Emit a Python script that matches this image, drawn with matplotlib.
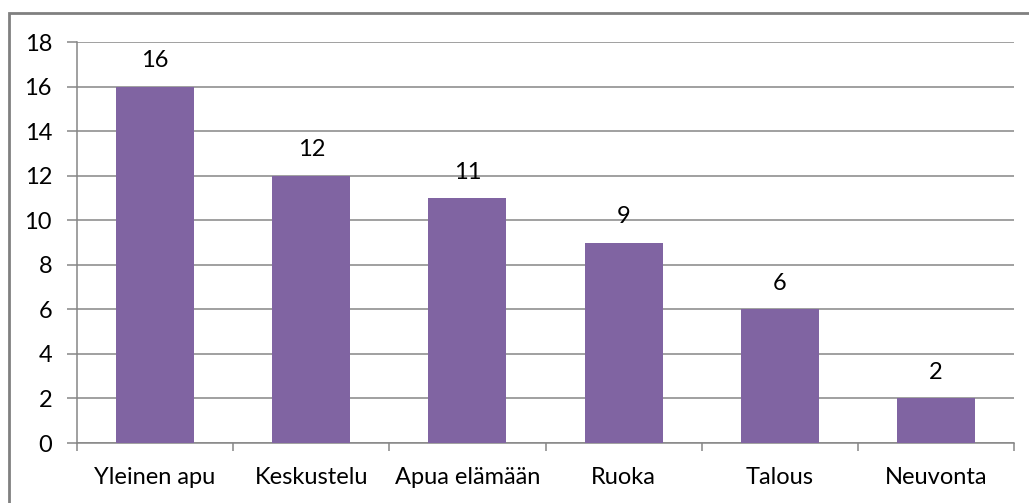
#!/usr/bin/env python3
import numpy as np
import matplotlib
matplotlib.use("Agg")
import matplotlib.pyplot as plt
from matplotlib.patches import Rectangle


CATEGORIES = ["Yleinen apu", "Keskustelu", "Apua elämään", "Ruoka", "Talous", "Neuvonta"]
VALUES = [16, 12, 11, 9, 6, 2]
Y_TICKS = [0, 2, 4, 6, 8, 10, 12, 14, 16, 18]

GRAY = "#868686"
PURPLE = "#8064A2"


def main():
    plt.rcParams["font.family"] = ["Lato", "DejaVu Sans"]
    fig = plt.figure(figsize=(10.29, 5.03), dpi=100)
    ax = fig.add_axes([77 / 1029, 60 / 503, (1014 - 77) / 1029, (443 - 42) / 503])

    x = np.arange(len(CATEGORIES))
    ax.bar(x, VALUES, width=0.5, color=PURPLE, zorder=3)
    for xi, v in zip(x, VALUES):
        ax.annotate(str(v), (xi, v), xytext=(0, 11), textcoords="offset points",
                    ha="center", va="bottom", fontsize=17, color="black")

    ax.set_xlim(-0.5, len(CATEGORIES) - 0.5)
    ax.set_ylim(0, 18)
    ax.set_yticks(Y_TICKS)
    ax.yaxis.grid(True, color=GRAY, linewidth=1.1, zorder=0)

    ax.set_xticks(x)
    ax.set_xticklabels(CATEGORIES)
    ax.set_xticks(np.arange(-0.5, len(CATEGORIES), 1.0), minor=True)
    ax.tick_params(axis="x", which="major", length=0, pad=17, labelsize=17)
    ax.tick_params(axis="x", which="minor", length=6, width=1.1, color=GRAY, direction="out")
    ax.tick_params(axis="y", length=7, width=1.1, color=GRAY, pad=11, labelsize=17)

    for s in ["top", "right"]:
        ax.spines[s].set_visible(False)
    for s in ["left", "bottom"]:
        ax.spines[s].set_color(GRAY)
        ax.spines[s].set_linewidth(1.1)

    # outer frame, cut off at right and bottom like the original
    fig.add_artist(Rectangle((9 / 1029, -0.2), 1.2, 1.2 - 13 / 503,
                             transform=fig.transFigure, fill=False,
                             edgecolor="#808080", linewidth=2))

    fig.savefig("out.png", dpi=100)


if __name__ == '__main__':
    main()
